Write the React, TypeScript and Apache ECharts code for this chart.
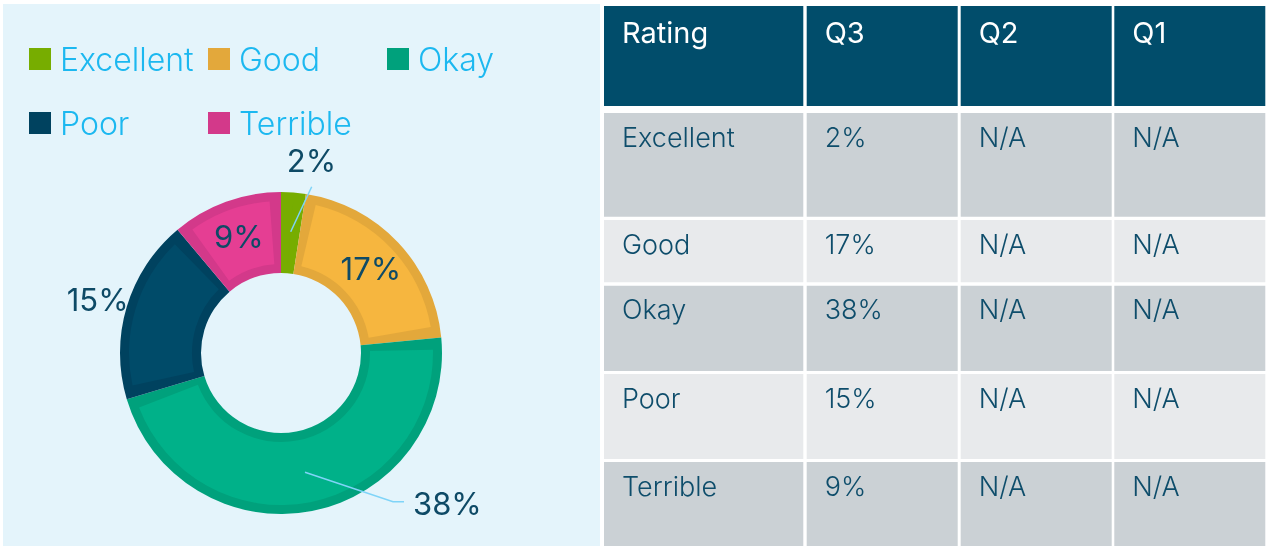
import React, { useEffect, useRef } from "react";
import * as echarts from "echarts";

// ---- data ----
const categories = ["Excellent", "Good", "Okay", "Poor", "Terrible"];
const q3Values = [2, 17, 38, 15, 9];
const q2Values = ["N/A", "N/A", "N/A", "N/A", "N/A"];
const q1Values = ["N/A", "N/A", "N/A", "N/A", "N/A"];
const tableHeaders = ["Rating", "Q3", "Q2", "Q1"];

// ---- styles ----
const EDGE_COLORS = ["#77AD00", "#E3A83B", "#00A17C", "#00425F", "#D3398A"];
const FILL_COLORS = ["#77AD00", "#F6B63F", "#00B189", "#004B69", "#E53E93"];
const LABEL_PLACEMENT = ["outside", "inside", "outside", "outside", "inside"];
const FONT = "Inter, Lato, 'Noto Sans', sans-serif";
const LABEL_COLOR = "#0E4A66";
const TEXT_COLOR = "#0E4D6B";
const LEGEND_COLOR = "#1CB8F0";
const LINE_COLOR = "#7FD4F8";
const PANEL_BG = "#E4F4FB";
const HEADER_BG = "#014D6B";
const ROW_DARK = "#CBD1D5";
const ROW_LIGHT = "#E8EAEC";

const CENTER = [281, 353];
// outside label placements (style positions), keyed by data index
const LABEL_POS: Record<number, any> = {
  0: { x: 311.5, y: 160, line: [[290.7, 231.7], [311.7, 186.7]] },
  2: { x: 413, y: 503, align: "left", line: [[305, 472.3], [393, 501.7], [404, 501.7]] },
  3: { x: 97.7, y: 299 },
};
const LEGEND_POS = [
  [29, 43],
  [208, 43],
  [387, 43],
  [29, 107],
  [208, 107],
];
const COL_X = [604, 806.7, 960.7, 1114.3];
const COL_W = [199.3, 151, 151, 151];
const ROW_Y = [6, 113, 220, 285.7, 374, 462];
const ROW_H = [100, 103.8, 62.3, 85.3, 85, 84];

export default function App() {
  const ref = useRef<HTMLDivElement>(null);
  useEffect(() => {
    if (!ref.current) return;
    const chart = echarts.init(ref.current, undefined, { renderer: "svg" });

    const outerData = categories.map((name, i) => ({
      name,
      value: q3Values[i],
      itemStyle: { color: EDGE_COLORS[i] },
      label: { position: LABEL_PLACEMENT[i] },
    }));
    const innerData = categories.map((name, i) => ({
      name,
      value: q3Values[i],
      itemStyle: { color: FILL_COLORS[i] },
    }));

    // table graphics
    const tableEls: any[] = [];
    const rows: string[][] = [tableHeaders];
    categories.forEach((c, i) => rows.push([c, q3Values[i] + "%", q2Values[i], q1Values[i]]));
    rows.forEach((row, r) => {
      row.forEach((cell, c) => {
        const fill = r === 0 ? HEADER_BG : r % 2 === 1 ? ROW_DARK : ROW_LIGHT;
        tableEls.push({
          type: "rect",
          shape: { x: COL_X[c], y: ROW_Y[r], width: COL_W[c], height: ROW_H[r] },
          style: { fill },
          silent: true,
        });
        tableEls.push({
          type: "text",
          x: COL_X[c] + 18,
          y: ROW_Y[r] + (r === 0 ? 26 : 24),
          style: {
            text: cell,
            fill: r === 0 ? "#FFFFFF" : TEXT_COLOR,
            fontSize: r === 0 ? 29 : 27,
            fontFamily: FONT,
            fontWeight: r === 0 ? 400 : 300,
            verticalAlign: "middle",
            align: "left",
          },
          silent: true,
        });
      });
    });

    // leader lines for the outside labels
    const leaderEls = Object.keys(LABEL_POS)
      .map((k) => LABEL_POS[+k])
      .filter((p) => p.line)
      .map((p) => ({
        type: "polyline",
        z: 50,
        silent: true,
        shape: { points: p.line },
        style: { stroke: LINE_COLOR, lineWidth: 1.5, fill: "none" },
      }));

    const legends = categories.map((name, i) => ({
      data: [name],
      left: LEGEND_POS[i][0],
      top: LEGEND_POS[i][1],
      padding: 0,
      itemWidth: 22,
      itemHeight: 22,
      icon: "rect",
      selectedMode: false,
      textStyle: {
        color: LEGEND_COLOR,
        fontSize: 32,
        fontFamily: FONT,
        fontWeight: 300,
        padding: [0, 0, 0, 4],
      },
    }));

    chart.setOption({
      animation: false,
      graphic: [
        {
          type: "rect",
          z: -10,
          shape: { x: 3, y: 4, width: 597, height: 542 },
          style: { fill: PANEL_BG },
          silent: true,
        },
        ...tableEls,
        ...leaderEls,
      ],
      legend: legends,
      series: [
        {
          type: "pie",
          center: CENTER,
          radius: [80, 161],
          startAngle: 90,
          clockwise: true,
          avoidLabelOverlap: false,
          emphasis: { disabled: true },
          data: outerData,
          label: {
            show: true,
            formatter: (p: any) => p.value + "%",
            color: LABEL_COLOR,
            fontSize: 31,
            fontFamily: FONT,
            fontWeight: 400,
          },
          labelLine: { show: false },
          labelLayout: (params: any) => {
            const p = LABEL_POS[params.dataIndex];
            if (!p) return {};
            return {
              x: p.x,
              y: p.y,
              align: p.align || "center",
              verticalAlign: "middle",
            };
          },
        },
        {
          type: "pie",
          center: CENTER,
          radius: [89, 152],
          startAngle: 90,
          clockwise: true,
          padAngle: 8.6,
          silent: true,
          emphasis: { disabled: true },
          label: { show: false },
          labelLine: { show: false },
          data: innerData,
        },
      ],
    });
    return () => chart.dispose();
  }, []);
  return (
    <div
      ref={ref}
      style={{ position: "fixed", left: 0, top: 0, width: 1269, height: 546 }}
    />
  );
}
